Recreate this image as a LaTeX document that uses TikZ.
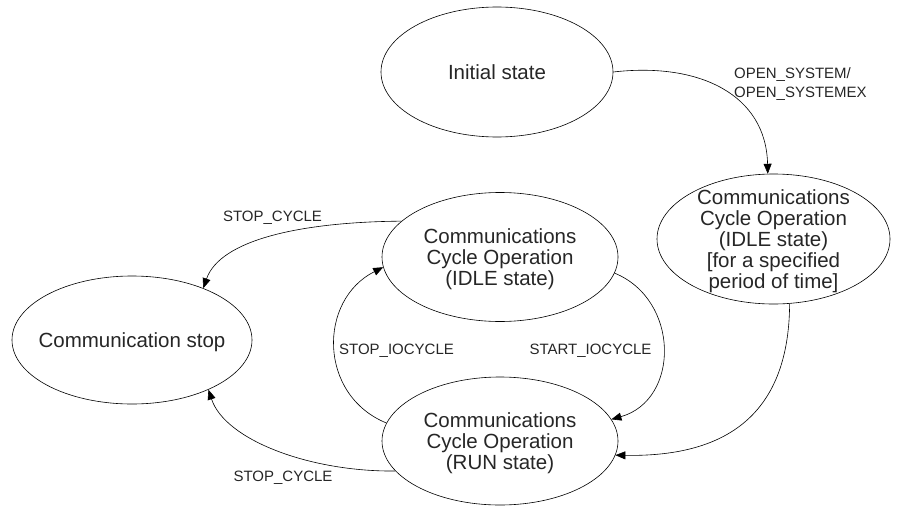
\documentclass[tikz,border=0pt]{standalone}
\usepackage{fontspec}
\setmainfont{Liberation Sans}
\usetikzlibrary{shapes.geometric,arrows.meta}
\newcommand\etext[1]{\makebox[0pt]{\raisebox{-8pt}[0pt][0pt]{\begin{tabular}{@{}c@{}}#1\end{tabular}}}}
\tikzset{
  state/.style={ellipse, draw, line width=0.6pt, inner sep=0pt,
    font=\fontsize{20.5}{20.7}\selectfont, text=black!85},
  lbl/.style={inner sep=0pt, font=\fontsize{15}{18.8}\selectfont, text=black!85},
  conn/.style={line width=0.6pt, -{Triangle[length=10pt,width=8pt]}}
}
\begin{document}
\begin{tikzpicture}[x=1pt,y=-1pt]
\useasboundingbox (0,0) rectangle (910,506);
\node[state, minimum width=232pt, minimum height=130pt] (init) at (497,72) {\etext{Initial state}};
\node[state, minimum width=233pt, minimum height=130pt] (spec) at (773.5,239) {\etext{Communications\\Cycle Operation\\(IDLE state)\\{[}for a specified\\period of time]}};
\node[state, minimum width=236pt, minimum height=129pt] (idle) at (500,257) {\etext{Communications\\Cycle Operation\\(IDLE state)}};
\node[state, minimum width=236pt, minimum height=128pt] (run) at (500,441) {\etext{Communications\\Cycle Operation\\(RUN state)}};
\node[state, minimum width=240pt, minimum height=128pt] (stop) at (132,340) {\etext{Communication stop}};

\node[lbl, anchor=west, align=left] (lopen) at (734,84) {OPEN\_SYSTEM/\\OPEN\_SYSTEMEX};
\node[lbl] (lstopa) at (272.5,218) {STOP\_CYCLE};
\node[lbl] (lstopio) at (396.5,351) {STOP\_IOCYCLE};
\node[lbl] (lstartio) at (590.5,351) {START\_IOCYCLE};
\node[lbl] (lstopb) at (283,478) {STOP\_CYCLE};

\draw[conn] (init.east) .. controls (700,62) and (766,95) .. (spec.95);
\draw[conn] (idle.160.7) .. controls (300,222) and (220,240) .. (stop.36.7);
\draw[conn] (run.196.4) .. controls (310,472) and (225,440) .. (stop.-33);
\draw[conn] (run.171.4) .. controls (318,395) and (318,300) .. (idle.185.9);
\draw[conn] (idle.-8.6) .. controls (680,300) and (680,400) .. (run.11.7);
\draw[conn] (spec.-76.6) .. controls (789,420) and (720,457) .. (run.-7.9);
\end{tikzpicture}
\end{document}
